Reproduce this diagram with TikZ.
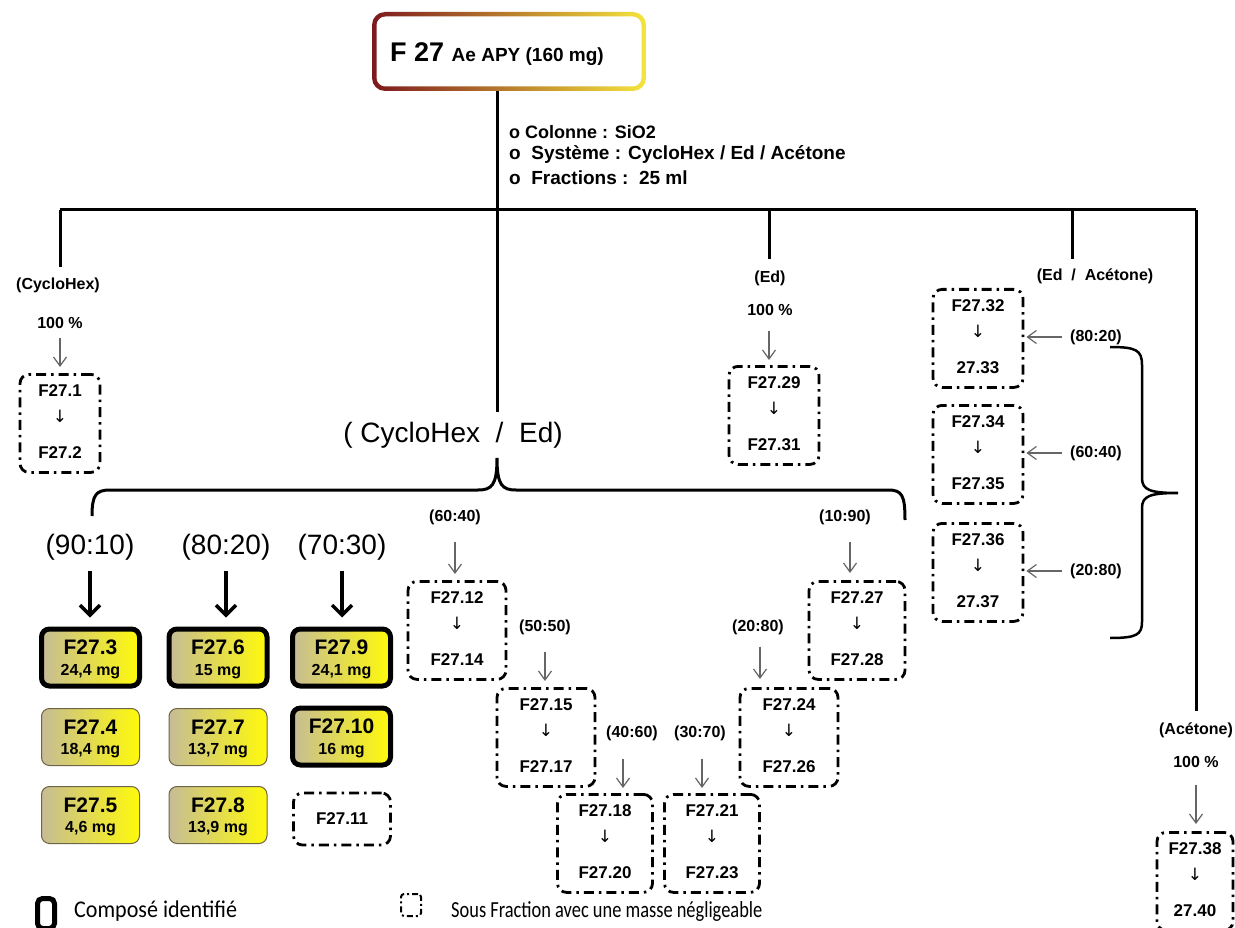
\documentclass[tikz,border=0pt]{standalone}
\usepackage{fontspec}
\setmainfont{Liberation Sans}
\newfontfamily\carl{Carlito}
\newfontfamily\carlA[FakeStretch=0.92]{Carlito}
\newfontfamily\carlB[FakeStretch=0.8]{Carlito}
\newfontfamily\djv{DejaVu Sans}
\usetikzlibrary{arrows.meta,calc}
\newcommand\fsz[1]{\fontsize{#1}{#1}\selectfont}
\definecolor{ybeige}{RGB}{198,188,150}
\definecolor{ymid}{RGB}{238,230,160}
\definecolor{yyel}{RGB}{255,250,10}
\definecolor{ybrd}{RGB}{110,100,70}
\definecolor{rdark}{RGB}{125,25,30}
\definecolor{rmid}{RGB}{228,105,60}
\definecolor{ryel}{RGB}{245,228,60}
\tikzset{
 mline/.style={line width=3pt, black},
 garrow/.style={draw=black!60, line width=1.2pt, -{Straight Barb[length=9pt,width=13pt]}},
 barrow/.style={line width=3.5pt, -{Straight Barb[length=10pt,width=20pt]}},
 dbox/.style={draw, line width=2.8pt, dash pattern=on 10pt off 5pt on 2.5pt off 5pt, rounded corners=9pt, inner sep=0pt},
 ybox/.style={rounded corners=8pt, left color=ybeige, middle color=ymid, right color=yyel, minimum width=98pt, minimum height=57pt, inner sep=0pt},
 yident/.style={ybox, draw=black, line width=5pt},
 ythin/.style={ybox, draw=ybrd, line width=1pt},
 btxt/.style={font=\fsz{17}\bfseries, inner sep=0pt},
 lbl/.style={font=\fsz{16}\bfseries, inner sep=0pt},
 big/.style={font=\fsz{28}, inner sep=0pt},
}
\newcommand\subfr[6]{%
 \node[dbox, minimum width=#4pt, minimum height=98pt, anchor=north] (#1) at (#2,#3) {};
 \node[btxt] (#1a) at ($(#1.north)+(0,18)$) {#5};
 \node[btxt, font=\djv\fsz{17}] (#1b) at ($(#1.north)+(0,43)$) {↓};
 \node[btxt] (#1c) at ($(#1.north)+(0,80)$) {#6};
}
\newcommand\yb[6]{%
 \node[#2] (#1) at (#3,#4) {};
 \node[inner sep=0pt, font=\fsz{21}\bfseries] (#1a) at ($(#1.center)+(0,-10)$) {#5};
 \node[inner sep=0pt, font=\fsz{16}\bfseries] (#1b) at ($(#1.center)+(0,14)$) {#6};
}
\begin{document}
\begin{tikzpicture}[x=1pt,y=-1pt]
\useasboundingbox[fill=white] (0,0) rectangle (1235,928);

% ---- top box
\shade[rounded corners=13pt, left color=rdark, middle color=rmid, right color=ryel] (372,12) rectangle (646,91);
\fill[white, rounded corners=9pt] (376.5,16.5) rectangle (641.5,86.5);
\node[minimum width=274pt, minimum height=79pt, inner sep=0pt] (top) at (509,51.5) {};
\node[inner sep=0pt] (toptxt) at (497,54) {\fsz{27}\bfseries F 27 \fsz{19}Ae APY (160 mg)};

% ---- info
\node[anchor=west, inner sep=0pt, font=\fsz{18}\bfseries] (i1) at (509,132) {o Colonne : SiO2};
\node[anchor=west, inner sep=0pt, font=\fsz{19}\bfseries] (i2) at (509,155) {o\ \ Système : CycloHex / Ed / Acétone};
\node[anchor=west, inner sep=0pt, font=\fsz{19}\bfseries] (i3) at (509,178) {o\ \ Fractions :\ \ 25 ml};

% ---- main tree
\coordinate (j0) at (497,210);
\coordinate (jL) at (60,210);
\coordinate (jEd) at (769,210);
\coordinate (jEA) at (1072,210);
\coordinate (jR) at (1196,210);
\draw[mline] (top.south -| j0) -- (j0);
\draw[mline] (jL) -- (jR);

% left branch
\node[lbl] (lCH) at (58,285) {(CycloHex)};
\node[lbl] (p1) at (60,323) {100 \%};
\draw[mline, shorten >=10pt] (jL) -- (jL |- lCH.north);
\subfr{b1}{60}{373}{80}{F27.1}{F27.2}
\draw[garrow, shorten <=9pt, shorten >=6pt] (p1.south) -- (p1.south |- b1.north);

% Ed branch
\node[lbl] (lEd) at (770,278) {(Ed)};
\node[lbl] (p2) at (770,310) {100 \%};
\draw[mline, shorten >=11pt] (jEd) -- (jEd |- lEd.north);
\subfr{b29}{774}{365}{90}{F27.29}{F27.31}
\draw[garrow, shorten <=15pt, shorten >=5pt] ([xshift=-1pt]p2.south) -- ([xshift=-1pt]p2.south |- b29.north);

% Ed / Acetone branch
\node[lbl] (lEA) at (1095,276) {(Ed\ \ /\ \ Acétone)};
\draw[mline, shorten >=9pt] (jEA) -- (jEA |- lEA.north);
\subfr{b32}{978}{288}{90}{F27.32}{27.33}
\subfr{b34}{978}{404}{90}{F27.34}{F27.35}
\subfr{b36}{978}{522}{90}{F27.36}{27.37}
\node[lbl, anchor=west] (r1) at (1070,337) {(80:20)};
\node[lbl, anchor=west] (r2) at (1070,453) {(60:40)};
\node[lbl, anchor=west] (r3) at (1070,571) {(20:80)};
\draw[garrow, shorten <=8pt, shorten >=2pt] (r1.west) -- (r1.west -| b32.east);
\draw[garrow, shorten <=8pt, shorten >=2pt] (r2.west) -- (r2.west -| b34.east);
\draw[garrow, shorten <=8pt, shorten >=2pt] (r3.west) -- (r3.west -| b36.east);
\draw[line width=2.5pt] (1110,347) .. controls (1136,347) and (1142,350) .. (1142,365) -- (1142,478)
  .. controls (1142,490) and (1150,493) .. (1178,493)
  .. controls (1150,493) and (1142,496) .. (1142,508) -- (1142,622)
  .. controls (1142,635) and (1136,638) .. (1110,638);

% Acetone branch
\node[lbl] (lAc) at (1196,730) {(Acétone)};
\node[lbl] (p3) at (1196,762) {100 \%};
\draw[mline, shorten >=11pt] (jR) -- (jR |- lAc.north);
\subfr{b38}{1195}{831}{76}{F27.38}{27.40}
\draw[garrow, shorten <=17pt, shorten >=7pt] (p3.south) -- (p3.south |- b38.north);

% CycloHex / Ed
\node[big] (lCHE) at (453,435) {( CycloHex\ \ /\ \ Ed)};
\draw[mline, shorten >=10pt] (j0) -- (j0 |- lCHE.north);
\draw[mline] (92,516) .. controls (92,495) and (96,490) .. (110,490) -- (478,490)
  .. controls (492,490) and (497,485) .. (497,458)
  .. controls (497,485) and (502,490) .. (516,490) -- (888,490)
  .. controls (902,490) and (905,495) .. (905,520);

% columns
\node[big] (c1) at (90,547) {(90:10)};
\node[big] (c2) at (226,547) {(80:20)};
\node[big] (c3) at (342,547) {(70:30)};
\yb{b3}{yident}{90.5}{657.5}{F27.3}{24,4 mg}
\yb{b4}{ythin}{90.5}{737}{F27.4}{18,4 mg}
\yb{b5}{ythin}{90.5}{815}{F27.5}{4,6 mg}
\yb{b6}{yident}{218}{657.5}{F27.6}{15 mg}
\yb{b7}{ythin}{218}{737}{F27.7}{13,7 mg}
\yb{b8}{ythin}{218}{815}{F27.8}{13,9 mg}
\yb{b9}{yident}{341.5}{657.5}{F27.9}{24,1 mg}
\yb{b10}{yident}{341.5}{736.5}{F27.10}{16 mg}
\node[dbox, minimum width=97pt, minimum height=52pt] (b11) at (342,819) {};
\node[btxt] (b11a) at (b11.center) {F27.11};
\draw[barrow, shorten <=11pt, shorten >=9pt] (c1.south) -- (c1.south |- b3.north);
\draw[barrow, shorten <=11pt, shorten >=9pt] (c2.south) -- (c2.south |- b6.north);
\draw[barrow, shorten <=11pt, shorten >=9pt] (c3.south) -- (c3.south |- b9.north);

% cascade
\subfr{b12}{457}{580}{98}{F27.12}{F27.14}
\subfr{b15}{546}{687}{98}{F27.15}{F27.17}
\subfr{b18}{605}{793}{95}{F27.18}{F27.20}
\subfr{b21}{712}{793}{95}{F27.21}{F27.23}
\subfr{b24}{789}{687}{98}{F27.24}{F27.26}
\subfr{b27}{857}{580}{96}{F27.27}{F27.28}
\node[lbl] (m1) at (455,517) {(60:40)};
\node[lbl] (m2) at (545,627) {(50:50)};
\node[lbl] (m3) at (632,733) {(40:60)};
\node[lbl] (m4) at (700,733) {(30:70)};
\node[lbl] (m5) at (758,627) {(20:80)};
\node[lbl] (m6) at (845,517) {(10:90)};
\draw[garrow, shorten <=17pt, shorten >=6pt] (m1.south) -- (m1.south |- b12.north);
\draw[garrow, shorten <=17pt, shorten >=6pt] (m2.south) -- (m2.south |- b15.north);
\draw[garrow, shorten <=18pt, shorten >=5pt] ([xshift=-9pt]m3.south) -- ([xshift=-9pt]m3.south |- b18.north);
\draw[garrow, shorten <=18pt, shorten >=5pt] ([xshift=2pt]m4.south) -- ([xshift=2pt]m4.south |- b21.north);
\draw[garrow, shorten <=12pt, shorten >=8pt] ([xshift=2pt]m5.south) -- ([xshift=2pt]m5.south |- b24.north);
\draw[garrow, shorten <=17pt, shorten >=7pt] ([xshift=5pt]m6.south) -- ([xshift=5pt]m6.south |- b27.north);

% legend
\node[draw, line width=5pt, rounded corners=5pt, minimum width=17pt, minimum height=30pt, anchor=north, inner sep=0pt] (legA) at (46,896) {};
\node[anchor=west, inner sep=0pt, font=\carlA\fsz{24}] (legAt) at (74,911) {Composé identifié};
\node[draw, line width=2pt, dash pattern=on 6pt off 3pt on 2pt off 3pt, rounded corners=3pt, minimum width=20pt, minimum height=22pt, inner sep=0pt] (legB) at (411,905) {};
\node[anchor=west, inner sep=0pt, font=\carlB\fsz{23}] (legBt) at (451,911) {Sous Fraction avec une masse négligeable};
\end{tikzpicture}
\end{document}
